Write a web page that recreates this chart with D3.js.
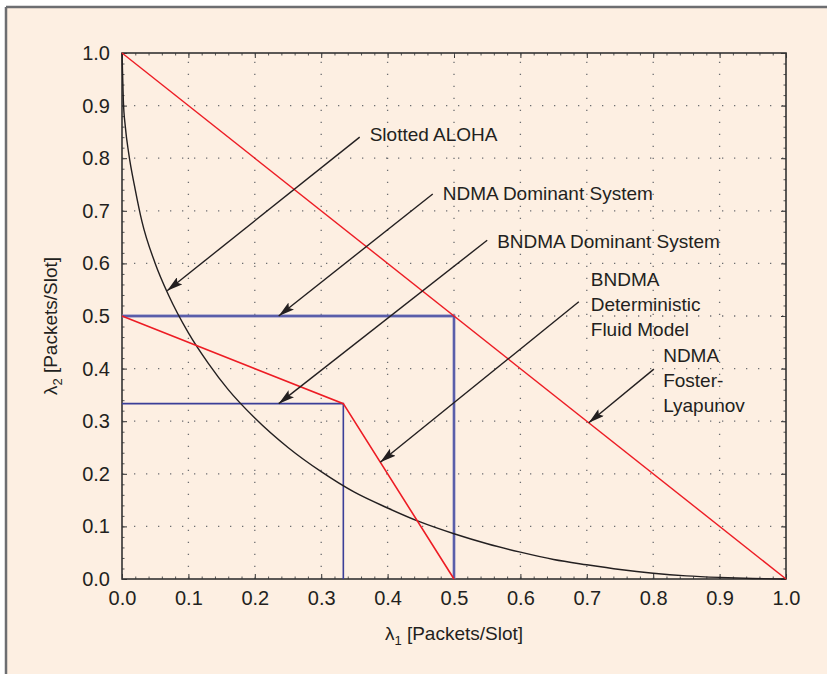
<html>
<head>
<script src="https://d3js.org/d3.v7.min.js"></script>
<style>
  body { margin: 0; background: #ffffff; }
  svg text { font-family: "Liberation Sans", Arial, Helvetica, sans-serif; fill: #231f20; }
</style>
</head>
<body>
<svg id="chart" width="827" height="674"></svg>
<script>
// ---- data ----
const ticks = [0, 0.1, 0.2, 0.3, 0.4, 0.5, 0.6, 0.7, 0.8, 0.9, 1.0];
const minorTicks = d3.range(0, 51).map(i => i / 50);

// slotted ALOHA stability boundary (black)
const alohaX = [0, 0.002, 0.005, 0.01, 0.02, 0.03, 0.05, 0.07, 0.1, 0.13, 0.16, 0.2, 0.25, 0.3, 0.35, 0.4, 0.45, 0.5, 0.55, 0.6, 0.65, 0.7, 0.75, 0.8, 0.85, 0.9, 0.95, 1.0];
const alohaY = [1.0, 0.91, 0.86, 0.81, 0.74, 0.68, 0.60, 0.54, 0.468, 0.41, 0.36, 0.306, 0.25, 0.204, 0.165, 0.135, 0.108, 0.086, 0.067, 0.051, 0.037, 0.027, 0.018, 0.011, 0.006, 0.003, 0.001, 0];

// NDMA Foster-Lyapunov (red)
const fosterX = [0, 1];
const fosterY = [1, 0];
// BNDMA deterministic fluid model (red)
const fluidX = [0, 1 / 3, 0.5];
const fluidY = [0.5, 1 / 3, 0];
// NDMA dominant system (blue)
const ndmaDomX = [0, 0.5, 0.5];
const ndmaDomY = [0.5, 0.5, 0];
// BNDMA dominant system (blue)
const bndmaDomX = [0, 1 / 3, 1 / 3];
const bndmaDomY = [1 / 3, 1 / 3, 0];

// annotations: text lines, text anchor, arrow start and tip (data units)
const noteLines = [["Slotted ALOHA"], ["NDMA Dominant System"], ["BNDMA Dominant System"],
                   ["BNDMA", "Deterministic", "Fluid Model"], ["NDMA", "Foster-", "Lyapunov"]];
const noteTextX = [0.373, 0.483, 0.565, 0.706, 0.815];
const noteTextY = [0.833, 0.721, 0.629, 0.557, 0.413];
const arrowFromX = [0.358, 0.468, 0.550, 0.688, 0.801];
const arrowFromY = [0.840, 0.732, 0.644, 0.527, 0.399];
const arrowToX = [0.068, 0.236, 0.236, 0.389, 0.703];
const arrowToY = [0.548, 0.5, 1 / 3, 0.222, 0.297];

// ---- layout ----
const svg = d3.select('#chart');
const mLeft = 122, mRight = 786, mTop = 53, mBottom = 579;

// frame background
svg.append('rect').attr('x', 6).attr('y', 7).attr('width', 821).attr('height', 667).attr('fill', '#fdefe2');
svg.append('line').attr('x1', 6).attr('x2', 827).attr('y1', 7).attr('y2', 7)
  .attr('stroke', '#6d6e71').attr('stroke-width', 2.5);
svg.append('line').attr('x1', 6).attr('x2', 6).attr('y1', 7).attr('y2', 674)
  .attr('stroke', '#6d6e71').attr('stroke-width', 2.5);

const x = d3.scaleLinear().domain([0, 1]).range([mLeft, mRight]);
const y = d3.scaleLinear().domain([0, 1]).range([mBottom, mTop]);

// dotted grid
const grid = svg.append('g');
grid.selectAll('line.gx').data(ticks.slice(1, -1)).enter().append('line')
  .attr('x1', d => x(d)).attr('x2', d => x(d)).attr('y1', mBottom).attr('y2', mTop)
  .attr('stroke', '#6d6e71').attr('stroke-width', 1.3).attr('stroke-dasharray', '1.3,10.7');
grid.selectAll('line.gy').data(ticks.slice(1, -1)).enter().append('line')
  .attr('x1', mLeft).attr('x2', mRight).attr('y1', d => y(d)).attr('y2', d => y(d))
  .attr('stroke', '#6d6e71').attr('stroke-width', 1.3).attr('stroke-dasharray', '1.3,10.7');

// axes with inward ticks
const fmt = d3.format('.1f');
function addAxis(gen, tr) {
  const g = svg.append('g').attr('transform', tr).call(gen);
  g.select('.domain').remove();
  g.selectAll('line').attr('stroke', '#333');
  return g;
}
const xAx = addAxis(d3.axisBottom(x).tickValues(ticks).tickFormat(fmt).tickSizeInner(-5).tickSizeOuter(0).tickPadding(12), `translate(0,${mBottom})`);
xAx.selectAll('text').attr('font-size', 20).attr('fill', '#231f20').style('font-family', '"Liberation Sans", Arial, sans-serif');
const yAx = addAxis(d3.axisLeft(y).tickValues(ticks).tickFormat(fmt).tickSizeInner(-5).tickSizeOuter(0).tickPadding(12), `translate(${mLeft},0)`);
yAx.selectAll('text').attr('font-size', 20).attr('fill', '#231f20').style('font-family', '"Liberation Sans", Arial, sans-serif');
addAxis(d3.axisTop(x).tickValues(ticks).tickFormat('').tickSizeInner(-5).tickSizeOuter(0), `translate(0,${mTop})`);
addAxis(d3.axisRight(y).tickValues(ticks).tickFormat('').tickSizeInner(-5).tickSizeOuter(0), `translate(${mRight},0)`);
// minor ticks
[[d3.axisBottom(x), `translate(0,${mBottom})`], [d3.axisTop(x), `translate(0,${mTop})`],
 [d3.axisLeft(y), `translate(${mLeft},0)`], [d3.axisRight(y), `translate(${mRight},0)`]].forEach(a => {
  addAxis(a[0].tickValues(minorTicks).tickFormat('').tickSizeInner(-2.5).tickSizeOuter(0), a[1])
    .selectAll('line').attr('stroke', '#555');
});

// plot box
svg.append('rect').attr('x', mLeft).attr('y', mTop).attr('width', mRight - mLeft).attr('height', mBottom - mTop)
  .attr('fill', 'none').attr('stroke', '#333').attr('stroke-width', 1.6);

// series
function series(xs, ys, color, w, curve) {
  const pts = xs.map((v, i) => [v, ys[i]]);
  const gen = d3.line().x(d => x(d[0])).y(d => y(d[1])).curve(curve || d3.curveLinear);
  svg.append('path').datum(pts).attr('d', gen)
    .attr('fill', 'none').attr('stroke', color).attr('stroke-width', w).attr('stroke-linejoin', 'miter');
}
series(ndmaDomX, ndmaDomY, '#7b7fbb', 2.8);
series(ndmaDomX, ndmaDomY, '#3b3f98', 1);
series(bndmaDomX, bndmaDomY, '#3b3f98', 1.6);
series(alohaX, alohaY, '#231f20', 1.4, d3.curveMonotoneX);
series(fosterX, fosterY, '#ed1c24', 1.4);
series(fluidX, fluidY, '#ed1c24', 1.6);

// arrowhead marker
svg.append('defs').append('marker')
  .attr('id', 'head').attr('viewBox', '0 0 16 9').attr('refX', 16).attr('refY', 4.5)
  .attr('markerWidth', 16).attr('markerHeight', 9).attr('markerUnits', 'userSpaceOnUse')
  .attr('orient', 'auto')
  .append('path').attr('d', 'M0,0 L16,4.5 L0,9 L3,4.5 Z').attr('fill', '#231f20');

// annotations
noteLines.forEach((lines, i) => {
  svg.append('line')
    .attr('x1', x(arrowFromX[i])).attr('y1', y(arrowFromY[i]))
    .attr('x2', x(arrowToX[i])).attr('y2', y(arrowToY[i]))
    .attr('stroke', '#231f20').attr('stroke-width', 1.4).attr('marker-end', 'url(#head)');
  const t = svg.append('text').attr('x', x(noteTextX[i])).attr('y', y(noteTextY[i])).attr('font-size', 19);
  lines.forEach((s, j) => {
    t.append('tspan').attr('x', x(noteTextX[i])).attr('dy', j === 0 ? 0 : 25).text(s);
  });
});

// axis labels
const xl = svg.append('text').attr('x', (mLeft + mRight) / 2).attr('y', 640).attr('text-anchor', 'middle').attr('font-size', 19);
xl.append('tspan').text('λ');
xl.append('tspan').attr('font-size', 13).attr('dy', 5).text('1');
xl.append('tspan').attr('dy', -5).text(' [Packets/Slot]');

const yl = svg.append('text').attr('transform', `translate(57,${(mTop + mBottom) / 2 + 10}) rotate(-90)`)
  .attr('text-anchor', 'middle').attr('font-size', 19);
yl.append('tspan').text('λ');
yl.append('tspan').attr('font-size', 13).attr('dy', 5).text('2');
yl.append('tspan').attr('dy', -5).text(' [Packets/Slot]');
</script>
</body>
</html>
